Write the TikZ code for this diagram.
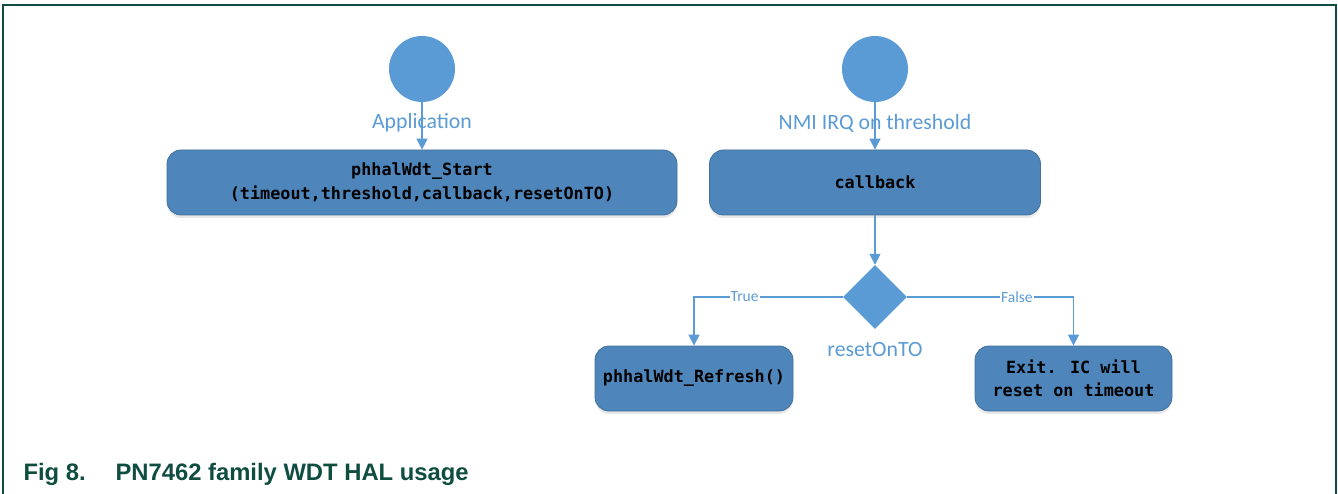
\documentclass[tikz,border=0pt]{standalone}
\usepackage{fontspec}
\setmainfont{Carlito}
\newfontfamily\codefont{DejaVu Sans Mono}
\newfontfamily\capfont{Liberation Sans}
\usetikzlibrary{positioning,shapes.geometric,arrows.meta,shadows}
\definecolor{flowblue}{HTML}{5B9BD5}
\definecolor{boxblue}{HTML}{4E86BB}
\definecolor{boxedge}{HTML}{41719C}
\definecolor{framegreen}{HTML}{0E4D3F}
\tikzset{>={Triangle[width=11pt,length=11pt]}}
\tikzset{
  start/.style={circle,fill=flowblue,minimum size=66pt,inner sep=0pt},
  action/.style={rounded corners=14pt,fill=boxblue,draw=boxedge,line width=.8pt,
    minimum height=65pt,align=center,font=\codefont\bfseries\fontsize{16.8}{23.5}\selectfont,
    drop shadow={shadow xshift=0pt,shadow yshift=-3pt,opacity=.18}},
  decide/.style={diamond,fill=flowblue,minimum size=64pt,inner sep=0pt},
  flow/.style={->,draw=flowblue,line width=1.6pt},
  lbl/.style={text=flowblue,font=\fontsize{21.8}{26}\selectfont},
  branch/.style={text=flowblue,fill=white,inner sep=1pt,font=\fontsize{15.5}{17}\selectfont}
}

\begin{document}
\begin{tikzpicture}[x=1pt,y=-1pt]
\useasboundingbox (0,0) rectangle (1338,494);
\draw[framegreen,line width=1.5pt] (3,494) -- (3,5) -- (1336,5) -- (1336,494);
\node[start] (app) at (422,69) {};
\node[start] (nmi) at (875,69) {};
\node[action,minimum width=510pt] (wdtstart) at (422,182.5)
  {phhalWdt\_Start\\(timeout,threshold,callback,resetOnTO)};
\node[action,minimum width=331pt] (callback) at (875,182.5) {callback};
\node[decide] (reset) at (875,297) {};
\node[lbl] at (875,350) {resetOnTO};
\node[action,minimum width=198pt] (refresh) at (694,378.5) {phhalWdt\_Refresh()};
\node[action,minimum width=197pt] (exit) at (1073.5,378.5) {Exit. IC will\\reset on timeout};
\draw[flow] (app) -- node[lbl,pos=.44] {Application} (wdtstart);
\draw[flow] (nmi) -- node[lbl,pos=.44] {NMI IRQ on threshold} (callback);
\draw[flow] (callback) -- (reset);
\draw[flow] (reset.west) -| node[branch,pos=.33] {True} (refresh.north);
\draw[flow] (reset.east) -| node[branch,pos=.33] {False} (exit.north);
\node[anchor=base west,text=framegreen,font=\capfont\bfseries\fontsize{23.8}{26}\selectfont]
  (fignum) at (20,480) {Fig 8.};
\node[anchor=base west,text=framegreen,font=\capfont\bfseries\fontsize{23.8}{26}\selectfont]
  (figtext) at (112,480) {PN7462 family WDT HAL usage};
\end{tikzpicture}
\end{document}
